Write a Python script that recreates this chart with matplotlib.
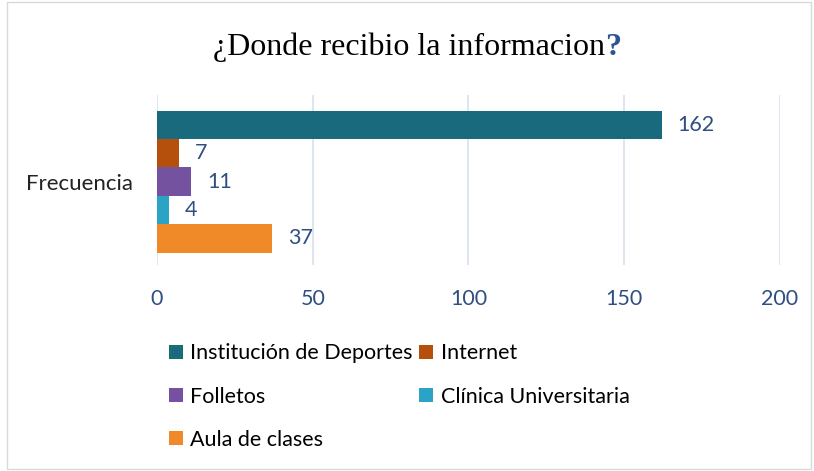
import matplotlib.pyplot as plt
from matplotlib.patches import Patch, Rectangle

categoria = "Frecuencia"
fuentes = ["Institución de Deportes", "Internet", "Folletos",
           "Clínica Universitaria", "Aula de clases"]
valores = [162, 7, 11, 4, 37]
colores = ["#1A6A7E", "#B5500C", "#7452A0", "#2BA3C4", "#F08A28"]
ticks = [0, 50, 100, 150, 200]
titulo = "¿Donde recibio la informacion"

azul = "#2F4F80"
fuente = "Lato"

fig = plt.figure(figsize=(8.14, 4.71), dpi=100)
ax = fig.add_axes([0.1929, 0.4374, 0.7653, 0.3609])

alto = 0.167
n = len(valores)
for i, (v, c) in enumerate(zip(valores, colores)):
    y = (n // 2 - i) * alto
    ax.barh(y, v, height=alto, color=c, zorder=3)
    ax.text(v + 5, y, str(v), va="center", ha="left", color=azul,
            fontsize=15.5, family=fuente)

ax.set_xlim(0, 200)
ax.set_ylim(-0.49, 0.51)
ax.set_xticks(ticks)
ax.set_xticklabels([str(t) for t in ticks], color=azul, fontsize=15.5, family=fuente)
ax.set_yticks([0])
ax.set_yticklabels([categoria], fontsize=16, family=fuente, color="#222222")
ax.tick_params(axis="both", length=0)
ax.tick_params(axis="x", pad=17)
ax.tick_params(axis="y", pad=17)
ax.grid(axis="x", color="#D6E0EE", linewidth=1.2, zorder=0)
for s in ax.spines.values():
    s.set_visible(False)

# titulo con el signo de cierre en azul
x0 = 0.262
t = fig.text(x0, 0.9, titulo, ha="left", va="center",
             fontsize=23, family="Liberation Serif", color="black")
fig.canvas.draw()
bb = t.get_window_extent().transformed(fig.transFigure.inverted())
fig.text(bb.x1, 0.9, "?", ha="left", va="center",
         fontsize=23, family="Liberation Serif", color="#2B5594", weight="bold")

orden = [0, 2, 4, 1, 3]
handles = [Patch(facecolor=colores[i], edgecolor="none") for i in orden]
labels = [fuentes[i] for i in orden]
fig.legend(handles, labels, ncol=2, loc="upper left",
           bbox_to_anchor=(0.194, 0.294), frameon=False,
           prop={"family": fuente, "size": 15.5}, handlelength=0.65,
           handleheight=0.65, handletextpad=0.35, labelspacing=1.08,
           columnspacing=0.3, borderpad=0)

fig.patches.append(Rectangle((0.008, 0.004), 0.988, 0.992, transform=fig.transFigure,
                             fill=False, edgecolor="#D9D9D9", linewidth=1))

fig.savefig("out.png", dpi=100)
